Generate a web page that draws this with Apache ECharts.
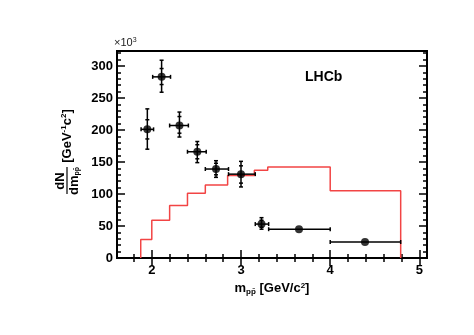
<!DOCTYPE html>
<html>
<head>
<meta charset="utf-8">
<script src="https://cdn.jsdelivr.net/npm/echarts@6/dist/echarts.min.js"></script>
<style>html,body{margin:0;padding:0;background:#fff;}#c{width:474px;height:335px;}</style>
</head>
<body>
<div id="c"></div>
<script>
// ---- data ----
var histEdges = [1.876, 2.0, 2.2, 2.4, 2.6, 2.85, 3.15, 3.3, 4.0, 4.79];
var histValues = [29, 59, 82, 101, 114, 129, 137, 142, 105];

var ptX    = [1.95, 2.11, 2.31, 2.51, 2.72, 3.00, 3.23, 3.65, 4.39];
var ptY    = [201, 283, 207, 166, 139, 131, 53, 45, 25];
var ptXlo  = [1.88, 2.01, 2.20, 2.40, 2.60, 2.86, 3.16, 3.31, 4.00];
var ptXhi  = [2.02, 2.21, 2.41, 2.61, 2.86, 3.16, 3.31, 4.00, 4.79];
var ptYlo  = [170, 259, 189, 149, 126, 111, 45, 45, 25];
var ptYhi  = [233, 309, 228, 182, 152, 151, 63, 45, 25];
var ptSlo  = [186, 271, 195, 155, 130, 117, 48, 45, 25];
var ptShi  = [216, 296, 221, 177, 148, 144, 59, 45, 25];

var xMajorTicks = [2, 3, 4, 5];
var yMajorTicks = [0, 50, 100, 150, 200, 250, 300];

// ---- derived ----
var X_MIN = 1.61, X_MAX = 5.085, Y_MIN = 0, Y_MAX = 323.4;
var xMinorTicks = [];
for (var i = 2; i <= 50; i += 2) { var v = i / 10; if (v > X_MIN && v < X_MAX) xMinorTicks.push(+v.toFixed(1)); }
var yMinorTicks = [];
for (var j = 0; j <= 320; j += 10) yMinorTicks.push(j);

var histData = [[histEdges[0], 0]];
for (var k = 0; k < histValues.length; k++) {
  histData.push([histEdges[k], histValues[k]]);
  histData.push([histEdges[k + 1], histValues[k]]);
}
histData.push([histEdges[histEdges.length - 1], 0]);

var errData = ptX.map(function (x, i) {
  return [x, ptY[i], ptXlo[i], ptXhi[i], ptYlo[i], ptYhi[i], ptSlo[i], ptShi[i]];
});
var ptData = ptX.map(function (x, i) { return [x, ptY[i]]; });

var FONT = 'Liberation Sans';
function xAx(pos, ticks, len, labels) {
  return {
    type: 'value', position: pos, min: X_MIN, max: X_MAX, gridIndex: 0,
    axisLine: { show: false },
    splitLine: { show: false },
    axisTick: { show: true, inside: true, length: len, customValues: ticks, lineStyle: { color: '#000', width: 1.5 } },
    axisLabel: labels ? { show: true, customValues: ticks, margin: 6, color: '#000', fontFamily: FONT, fontWeight: 'bold', fontSize: 13 } : { show: false }
  };
}
function yAx(pos, ticks, len, labels) {
  return {
    type: 'value', position: pos, min: Y_MIN, max: Y_MAX, gridIndex: 0,
    axisLine: { show: false },
    splitLine: { show: false },
    axisTick: { show: true, inside: true, length: len, customValues: ticks, lineStyle: { color: '#000', width: 1.5 } },
    axisLabel: labels ? { show: true, customValues: ticks, margin: 4, color: '#000', fontFamily: FONT, fontWeight: 'bold', fontSize: 13 } : { show: false }
  };
}

var xMain = xAx('bottom', xMajorTicks, 8, true);
xMain.name = 'm{sub|pp\u0304} [GeV/c{sup|2}]';
xMain.nameLocation = 'middle';
xMain.nameGap = 20;
xMain.nameTextStyle = {
  color: '#000', fontFamily: FONT, fontWeight: 'bold', fontSize: 13, verticalAlign: 'top',
  rich: {
    sub: { fontSize: 8, fontWeight: 'bold', fontFamily: FONT, color: '#000', verticalAlign: 'bottom', padding: [6, 0, 0, 0] },
    sup: { fontSize: 8, fontWeight: 'bold', fontFamily: FONT, color: '#000', verticalAlign: 'top', padding: [0, 0, 6, 0] }
  }
};

var chart = echarts.init(document.getElementById('c'), null, { renderer: 'canvas' });
chart.setOption({
  animation: false,
  backgroundColor: '#fff',
  grid: { left: 117, top: 51, width: 310, height: 207, show: true, borderColor: '#000', borderWidth: 2, backgroundColor: 'transparent' },
  xAxis: [
    xMain,
    xAx('bottom', xMinorTicks, 4, false),
    xAx('top', xMajorTicks, 8, false),
    xAx('top', xMinorTicks, 4, false)
  ],
  yAxis: [
    yAx('left', yMajorTicks, 8, true),
    yAx('left', yMinorTicks, 4, false),
    yAx('right', yMajorTicks, 8, false),
    yAx('right', yMinorTicks, 4, false)
  ],
  series: [
    {
      type: 'line', xAxisIndex: 0, yAxisIndex: 0, data: histData,
      showSymbol: false, symbol: 'none',
      lineStyle: { color: '#f24444', width: 1.5 }, z: 2
    },
    {
      type: 'custom', xAxisIndex: 0, yAxisIndex: 0, data: errData, z: 3,
      renderItem: function (params, api) {
        var c = api.coord([api.value(0), api.value(1)]);
        var xl = api.coord([api.value(2), api.value(1)])[0];
        var xh = api.coord([api.value(3), api.value(1)])[0];
        var yl = api.coord([api.value(0), api.value(4)])[1];
        var yh = api.coord([api.value(0), api.value(5)])[1];
        var sl = api.coord([api.value(0), api.value(6)])[1];
        var sh = api.coord([api.value(0), api.value(7)])[1];
        var st = { stroke: '#000', lineWidth: 1.5 };
        var ch = [];
        function ln(x1, y1, x2, y2) { ch.push({ type: 'line', shape: { x1: x1, y1: y1, x2: x2, y2: y2 }, style: st }); }
        ln(xl, c[1], xh, c[1]);
        ln(xl, c[1] - 2, xl, c[1] + 2);
        ln(xh, c[1] - 2, xh, c[1] + 2);
        if (Math.abs(yh - yl) > 1) {
          ln(c[0], yl, c[0], yh);
          ln(c[0] - 2, yl, c[0] + 2, yl);
          ln(c[0] - 2, yh, c[0] + 2, yh);
          ln(c[0] - 2, sl, c[0] + 2, sl);
          ln(c[0] - 2, sh, c[0] + 2, sh);
        }
        return { type: 'group', children: ch };
      }
    },
    {
      type: 'scatter', xAxisIndex: 0, yAxisIndex: 0, data: ptData, z: 4,
      symbol: 'circle', symbolSize: 8, itemStyle: { color: '#000' }
    }
  ],
  graphic: [
    {
      type: 'text', left: 114, top: 37,
      style: { text: '\u00d710{s|3}', fill: '#222', font: '11px ' + FONT,
        rich: { s: { fontSize: 7, fontFamily: FONT, fill: '#222', verticalAlign: 'top', padding: [0, 0, 5, 0] } } }
    },
    {
      type: 'text', left: 305, top: 70,
      style: { text: 'LHCb', fill: '#000', font: 'bold 14px ' + FONT }
    },
    {
      type: 'group', x: 67, y: 152, rotation: Math.PI / 2,
      children: [
        { type: 'text', x: -29, y: -7, style: { text: 'dN', fill: '#000', font: 'bold 13px ' + FONT, align: 'center', verticalAlign: 'middle' } },
        { type: 'line', shape: { x1: -42, y1: 0, x2: -15, y2: 0 }, style: { stroke: '#000', lineWidth: 1.2 } },
        { type: 'text', x: -29, y: 7, style: { text: 'dm{s|pp\u0304}', fill: '#000', font: 'bold 13px ' + FONT, align: 'center', verticalAlign: 'middle',
            rich: { s: { fontSize: 7, fontWeight: 'bold', fontFamily: FONT, fill: '#000', verticalAlign: 'bottom', padding: [6, 0, 0, 0] } } } },
        { type: 'text', x: 16, y: 0, style: { text: '[GeV{s|-1}c{s|2}]', fill: '#000', font: 'bold 13px ' + FONT, align: 'center', verticalAlign: 'middle',
            rich: { s: { fontSize: 8, fontWeight: 'bold', fontFamily: FONT, fill: '#000', verticalAlign: 'top', padding: [0, 0, 6, 0] } } } }
      ]
    }
  ]
});
</script>
</body>
</html>
